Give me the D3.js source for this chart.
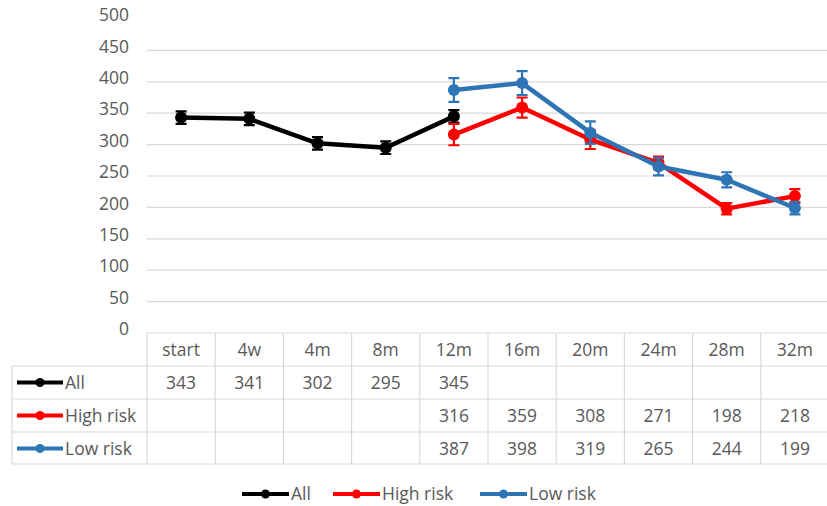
<!DOCTYPE html>
<html><head><meta charset="utf-8">
<script src="https://cdn.jsdelivr.net/npm/d3@7"></script>
<style>body{margin:0;background:#fff;} text{font-family:"Open Sans",sans-serif;}</style>
</head><body>
<svg id="c" width="827" height="506"></svg>
<script>
const categories = ["start","4w","4m","8m","12m","16m","20m","24m","28m","32m"];
const allValues  = [343,341,302,295,345,null,null,null,null,null];
const allErr     = [10,10,10,10,10,null,null,null,null,null];
const highValues = [null,null,null,null,316,359,308,271,198,218];
const highErr    = [null,null,null,null,17,16,15,10,9,11];
const lowValues  = [null,null,null,null,387,398,319,265,244,199];
const lowErr     = [null,null,null,null,19,19,18,14,12,10];
const yTicks = [0,50,100,150,200,250,300,350,400,450,500];
const seriesNames = ["All","High risk","Low risk"];
const seriesColors = ["#000000","#ff0000","#2e75b6"];

const series = [
  {name:seriesNames[0], color:seriesColors[0], v:allValues, e:allErr},
  {name:seriesNames[1], color:seriesColors[1], v:highValues, e:highErr},
  {name:seriesNames[2], color:seriesColors[2], v:lowValues, e:lowErr}
];

const svg = d3.select("#c");
const txt = "#595959", grid = "#d9d9d9", fs = "17.5px";
const left = 147, colW = 68.2, right = left + colW*categories.length;
const x = d3.scaleBand().domain(categories).range([left, right]);
const y = d3.scaleLinear().domain([0,500]).range([333,19]);

// gridlines
svg.append("g").selectAll("line").data(yTicks.filter(t=>t>0 && t<500)).join("line")
  .attr("x1",left).attr("x2",827).attr("y1",d=>y(d)).attr("y2",d=>y(d))
  .attr("stroke",grid).attr("stroke-width",1.2);

// y axis labels
const yAxis = d3.axisLeft(y).tickValues(yTicks).tickSize(0).tickPadding(0);
const ga = svg.append("g").attr("transform","translate(129,0)").call(yAxis);
ga.select(".domain").remove();
ga.selectAll("text").attr("fill",txt).style("font-size",fs).style("font-family","'Open Sans',sans-serif").attr("dy","0.1em");

// table
const rowH = 33;
const tTop = 333, rows = [tTop, tTop+rowH, tTop+2*rowH, tTop+3*rowH, tTop+4*rowH-1];
const tg = svg.append("g").attr("stroke",grid).attr("stroke-width",1.2);
tg.append("line").attr("x1",left).attr("x2",827).attr("y1",rows[0]).attr("y2",rows[0]);
rows.slice(1).forEach(r=>tg.append("line").attr("x1",12).attr("x2",827).attr("y1",r).attr("y2",r));
tg.append("line").attr("x1",12).attr("x2",12).attr("y1",rows[1]).attr("y2",rows[4]);
categories.forEach(c=>tg.append("line").attr("x1",x(c)).attr("x2",x(c)).attr("y1",rows[0]).attr("y2",rows[4]));

svg.append("g").selectAll("text").data(categories).join("text")
  .attr("x",d=>x(d)+x.bandwidth()/2).attr("y",rows[0]+rowH/2+6)
  .attr("text-anchor","middle").attr("fill",txt).style("font-size",fs).text(d=>d);

series.forEach((s,i)=>{
  const cy = rows[i+1]+rowH/2;
  svg.append("line").attr("x1",17).attr("x2",63).attr("y1",cy).attr("y2",cy).attr("stroke",s.color).attr("stroke-width",4);
  svg.append("circle").attr("cx",40).attr("cy",cy).attr("r",4.5).attr("fill",s.color);
  svg.append("text").attr("x",65).attr("y",cy+6).attr("fill",txt).style("font-size",fs).text(s.name);
  svg.append("g").selectAll("text").data(categories.map((c,j)=>({c,v:s.v[j]})).filter(d=>d.v!=null)).join("text")
    .attr("x",d=>x(d.c)+x.bandwidth()/2).attr("y",cy+6).attr("text-anchor","middle")
    .attr("fill",txt).style("font-size",fs).text(d=>d.v);
});

// lines
const line = d3.line().defined(d=>d.v!=null).x(d=>x(d.c)+x.bandwidth()/2).y(d=>y(d.v));
series.forEach(s=>{
  const pts = categories.map((c,j)=>({c,v:s.v[j],e:s.e[j]}));
  const g = svg.append("g");
  g.append("path").datum(pts).attr("d",line).attr("fill","none").attr("stroke",s.color)
    .attr("stroke-width",4.5).attr("stroke-linejoin","round");
  const p = pts.filter(d=>d.v!=null);
  g.selectAll(".eb").data(p).join("path").attr("fill","none").attr("stroke",s.color).attr("stroke-width",2.2)
    .attr("d",d=>{const cx=x(d.c)+x.bandwidth()/2, t=y(d.v+d.e), b=y(d.v-d.e);
      return `M${cx},${t}V${b}M${cx-5.5},${t}H${cx+5.5}M${cx-5.5},${b}H${cx+5.5}`;});
  g.selectAll("circle").data(p).join("circle").attr("cx",d=>x(d.c)+x.bandwidth()/2).attr("cy",d=>y(d.v))
    .attr("r",6).attr("fill",s.color);
});

// legend
const legX = [242,333,480];
series.forEach((s,i)=>{
  const lx = legX[i], ly = 494;
  svg.append("line").attr("x1",lx).attr("x2",lx+47).attr("y1",ly).attr("y2",ly).attr("stroke",s.color).attr("stroke-width",4);
  svg.append("circle").attr("cx",lx+23.5).attr("cy",ly).attr("r",4.5).attr("fill",s.color);
  svg.append("text").attr("x",lx+49).attr("y",ly+6).attr("fill",txt).style("font-size",fs).text(s.name);
});
</script>
</body></html>
